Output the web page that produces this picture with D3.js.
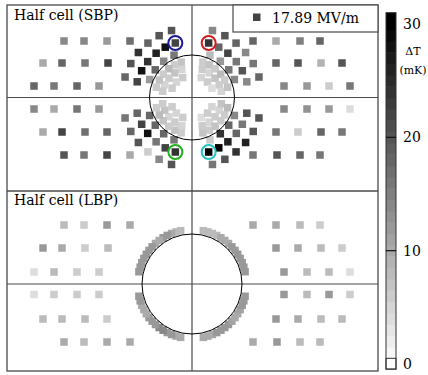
<!DOCTYPE html>
<html>
<head>
<meta charset="utf-8">
<script src="https://cdn.jsdelivr.net/npm/d3@7"></script>
<style>
  body { margin: 0; background: #fff; }
  text { font-family: "DejaVu Serif", serif; }
</style>
</head>
<body>
<div id="chart"></div>
<script>
// sensor positions relative to the iris centre (y up), temperatures in mK

// outer sensor rows, x positions per row (left four, right four)
const gridDx = [
  [-128, -108, -85, -62, 61, 84, 108, 128],
  [-149, -130, -107, -84, 84, 106, 129, 150],
  [-158, -138, -115, -93, 92, 115, 137, 158],
  [-158, -138, -115, -93, 92, 115, 137, 158],
  [-149, -130, -107, -85, 84, 106, 129, 150],
  [-128, -108, -85, -62, 61, 85, 108, 128]
];
const sbpGridDy = [56.5, 34.5, 11.5, -11.5, -34.5, -57.5];
const lbpGridDy = [59, 36, 12, -10.5, -35, -58];

const sbpGridValues = [
  [14, 14, 12, 17, 18, 10, 15, 18],
  [10, 18, 16, 22, 18, 20, 9, 20],
  [18, 16, 18, 12, 14, 12, 6, 16],
  [14, 10, 16, 12, 14, 13, 12, 4],
  [10, 22, 17, 18, 16, 6, 18, 16],
  [20, 16, 22, 10, 16, 20, 18, 16]
];
const lbpGridValues = [
  [8, 6, 12, 10, 10, 10, 8, 6],
  [12, 10, 6, 8, 12, 10, 8, 6],
  [4, 8, 6, 6, 12, 8, 8, 4],
  [4, 6, 6, 6, 12, 8, 12, 6],
  [8, 8, 8, 6, 12, 10, 8, 8],
  [10, 8, 10, 10, 10, 12, 8, 8]
];

// SBP sensors around the iris: radius and angle from the vertical (deg)
const sbpRingR = [46, 57, 70];
const sbpRingAngles = [[23, 38, 53, 67], [17, 28, 39, 51, 62, 74], [17, 28, 39, 50, 61, 73]];
const sbpRingUL = [[16, 14, 18, 12], [22, 28, 26, 24, 28, 22], [20, 20, 18, 24, 20, 18]];
const sbpRingUR = [[8, 12, 16, 14], [24, 18, 22, 16, 20, 14], [14, 20, 18, 14, 16, 18]];
const sbpRingLL = [[16, 18, 18, 18], [24, 22, 16, 28, 22, 18], [20, 14, 6, 20, 18, 16]];
const sbpRingLR = [[6, 24, 18, 14], [30, 30, 26, 18, 16, 20], [16, 20, 24, 26, 20, 20]];

// SBP sensors inside the iris
const sbpInnerR = [22, 30, 37];
const sbpInnerAngles = [[25, 45, 65], [20, 35, 50, 65, 78], [17, 28, 39, 51, 62, 74]];
const sbpInnerUL = [[6, 5, 6], [5, 7, 6, 5, 6], [7, 6, 8, 6, 7, 6]];
const sbpInnerUR = [[5, 6, 4], [6, 5, 7, 6, 5], [6, 7, 6, 8, 6, 7]];
const sbpInnerLL = [[6, 5, 6], [5, 6, 5, 7, 6], [6, 7, 6, 7, 8, 6]];
const sbpInnerLR = [[4, 6, 5], [6, 5, 6, 5, 7], [7, 6, 7, 6, 6, 8]];

// LBP sensors around the iris
const lbpArcR = [54.5];
const lbpArcAngles = [[12, 17, 22, 27, 32, 37, 42, 47, 52, 57, 62, 67, 72, 77]];
const lbpArcUL = [[8, 8, 10, 12, 12, 10, 10, 12, 12, 12, 12, 12, 12, 12]];
const lbpArcUR = [[8, 8, 8, 8, 10, 10, 10, 12, 12, 12, 12, 12, 12, 12]];
const lbpArcLL = [[10, 10, 12, 12, 14, 14, 12, 12, 12, 10, 10, 10, 12, 12]];
const lbpArcLR = [[10, 10, 10, 12, 12, 12, 12, 11, 10, 10, 11, 12, 12, 12]];

const sbpIrisR = 42.5;
const lbpIrisR = 50;
const markedAngle = 17;   // highlighted sensors, middle ring
const legendValue = 22;
const legendLabel = '17.89 MV/m';
const cbTicks = [0, 10, 20, 30];

const W = 428, H = 375;
const sq = 7.5;

const svg = d3.select('#chart').append('svg')
  .attr('width', W)
  .attr('height', H);

const x = d3.scaleLinear().domain([-185, 186]).range([7, 378]);
const ySbp = d3.scaleLinear().domain([92.5, -93.5]).range([5, 191]);
const yLbp = d3.scaleLinear().domain([93, -87]).range([191, 371]);
const gray = d3.scaleLinear().domain([0, 30]).range(['#ffffff', '#000000']).clamp(true);

function ringPoints(radii, angles, values, sx, sy) {
  const pts = [];
  radii.forEach((r, i) => angles[i].forEach((a, j) => {
    const t = a * Math.PI / 180;
    pts.push({ x: sx * r * Math.sin(t), y: sy * r * Math.cos(t), v: values[i][j] });
  }));
  return pts;
}

function gridPoints(dy, values) {
  const pts = [];
  dy.forEach((d, i) => gridDx[i].forEach((dx, j) => {
    pts.push({ x: dx, y: d, v: values[i][j] });
  }));
  return pts;
}

// frame and axes lines
const lineColor = '#4a4a4a';
svg.append('rect')
  .attr('x', x(-185)).attr('y', 5)
  .attr('width', x(186) - x(-185)).attr('height', 366)
  .attr('fill', 'none').attr('stroke', lineColor).attr('stroke-width', 1.3);
svg.append('line')
  .attr('x1', x(-185)).attr('x2', x(186))
  .attr('y1', 191).attr('y2', 191)
  .attr('stroke', lineColor).attr('stroke-width', 1.5);
svg.append('line')
  .attr('x1', x(0)).attr('x2', x(0))
  .attr('y1', 5).attr('y2', 371)
  .attr('stroke', lineColor).attr('stroke-width', 1.2);
[ySbp, yLbp].forEach(y => {
  svg.append('line')
    .attr('x1', x(-185)).attr('x2', x(186))
    .attr('y1', y(0)).attr('y2', y(0))
    .attr('stroke', lineColor).attr('stroke-width', 1.2);
});

function drawSquares(pts, y) {
  const s = x(sq) - x(0);
  svg.append('g')
    .selectAll('rect')
    .data(pts)
    .enter()
    .append('rect')
    .attr('x', d => x(d.x) - s / 2)
    .attr('y', d => y(d.y) - s / 2)
    .attr('width', s)
    .attr('height', s)
    .attr('fill', d => gray(d.v));
}

// SBP panel
drawSquares(gridPoints(sbpGridDy, sbpGridValues), ySbp);
drawSquares([].concat(
  ringPoints(sbpInnerR, sbpInnerAngles, sbpInnerUL, -1, 1),
  ringPoints(sbpInnerR, sbpInnerAngles, sbpInnerUR, 1, 1),
  ringPoints(sbpInnerR, sbpInnerAngles, sbpInnerLL, -1, -1),
  ringPoints(sbpInnerR, sbpInnerAngles, sbpInnerLR, 1, -1),
  ringPoints(sbpRingR, sbpRingAngles, sbpRingUL, -1, 1),
  ringPoints(sbpRingR, sbpRingAngles, sbpRingUR, 1, 1),
  ringPoints(sbpRingR, sbpRingAngles, sbpRingLL, -1, -1),
  ringPoints(sbpRingR, sbpRingAngles, sbpRingLR, 1, -1)
), ySbp);

// LBP panel
drawSquares(gridPoints(lbpGridDy, lbpGridValues), yLbp);
drawSquares([].concat(
  ringPoints(lbpArcR, lbpArcAngles, lbpArcUL, -1, 1),
  ringPoints(lbpArcR, lbpArcAngles, lbpArcUR, 1, 1),
  ringPoints(lbpArcR, lbpArcAngles, lbpArcLL, -1, -1),
  ringPoints(lbpArcR, lbpArcAngles, lbpArcLR, 1, -1)
), yLbp);

// iris outlines
svg.append('circle')
  .attr('cx', x(0)).attr('cy', ySbp(0))
  .attr('r', x(sbpIrisR) - x(0))
  .attr('fill', 'none').attr('stroke', '#000').attr('stroke-width', 1);
svg.append('circle')
  .attr('cx', x(0)).attr('cy', yLbp(0))
  .attr('r', x(lbpIrisR) - x(0))
  .attr('fill', 'none').attr('stroke', '#000').attr('stroke-width', 1);

// highlighted sensors
const marks = [
  { sx: -1, sy: 1, c: '#1a1a9a' },
  { sx: 1, sy: 1, c: '#d41c1c' },
  { sx: -1, sy: -1, c: '#22b022' },
  { sx: 1, sy: -1, c: '#22c4c4' }
];
svg.append('g')
  .selectAll('circle')
  .data(marks)
  .enter()
  .append('circle')
  .attr('cx', d => x(d.sx * sbpRingR[1] * Math.sin(markedAngle * Math.PI / 180)))
  .attr('cy', d => ySbp(d.sy * sbpRingR[1] * Math.cos(markedAngle * Math.PI / 180)))
  .attr('r', 7)
  .attr('fill', 'none')
  .attr('stroke', d => d.c)
  .attr('stroke-width', 2);

// panel titles
svg.append('text').attr('x', 14).attr('y', 20)
  .attr('font-size', 14).text('Half cell (SBP)');
svg.append('text').attr('x', 14).attr('y', 205)
  .attr('font-size', 14).text('Half cell (LBP)');

// legend
svg.append('rect')
  .attr('x', 233).attr('y', 5).attr('width', 145).attr('height', 27)
  .attr('fill', '#fff').attr('stroke', lineColor).attr('stroke-width', 1.2);
svg.append('rect')
  .attr('x', 253).attr('y', 13.5).attr('width', sq).attr('height', sq)
  .attr('fill', gray(legendValue));
svg.append('text').attr('x', 272).attr('y', 23)
  .attr('font-size', 14).text(legendLabel);

// colour bar
const cb = d3.scaleLinear().domain([0, 30]).range([364, 24]);
const cbX = 386, cbW = 10;
const cbTop = 31, cbBottom = -0.45;
svg.append('g')
  .selectAll('rect')
  .data(d3.range(0, 31))
  .enter()
  .append('rect')
  .attr('x', cbX)
  .attr('y', d => cb(d === 30 ? cbTop : d + 0.5))
  .attr('width', cbW)
  .attr('height', d => cb(Math.max(d - 0.5, cbBottom)) - cb(d === 30 ? cbTop : d + 0.5) + 0.5)
  .attr('fill', d => gray(d));
svg.append('rect')
  .attr('x', cbX).attr('y', cb(cbTop))
  .attr('width', cbW).attr('height', cb(cbBottom) - cb(cbTop))
  .attr('fill', 'none').attr('stroke', '#333').attr('stroke-width', 1);
svg.append('rect')
  .attr('x', cbX).attr('y', cb(0.5))
  .attr('width', cbW).attr('height', cb(cbBottom) - cb(0.5))
  .attr('fill', 'none').attr('stroke', '#333').attr('stroke-width', 1);
svg.append('g')
  .selectAll('line')
  .data([10, 20])
  .enter()
  .append('line')
  .attr('x1', cbX).attr('x2', cbX + cbW)
  .attr('y1', d => cb(d)).attr('y2', d => cb(d))
  .attr('stroke', '#111').attr('stroke-width', 1.2);

const cbAxis = svg.append('g')
  .attr('transform', `translate(${cbX + cbW},0)`)
  .call(d3.axisRight(cb).tickValues(cbTicks).tickSize(0).tickPadding(7));
cbAxis.select('.domain').remove();
cbAxis.selectAll('text')
  .attr('font-size', 14)
  .attr('font-family', '"DejaVu Serif", serif')
  .attr('fill', '#000');

svg.append('text').attr('x', 413).attr('y', 55)
  .attr('text-anchor', 'middle').attr('font-size', 11).text('ΔT');
svg.append('text').attr('x', 413).attr('y', 74)
  .attr('text-anchor', 'middle').attr('font-size', 11).text('(mK)');
</script>
</body>
</html>
